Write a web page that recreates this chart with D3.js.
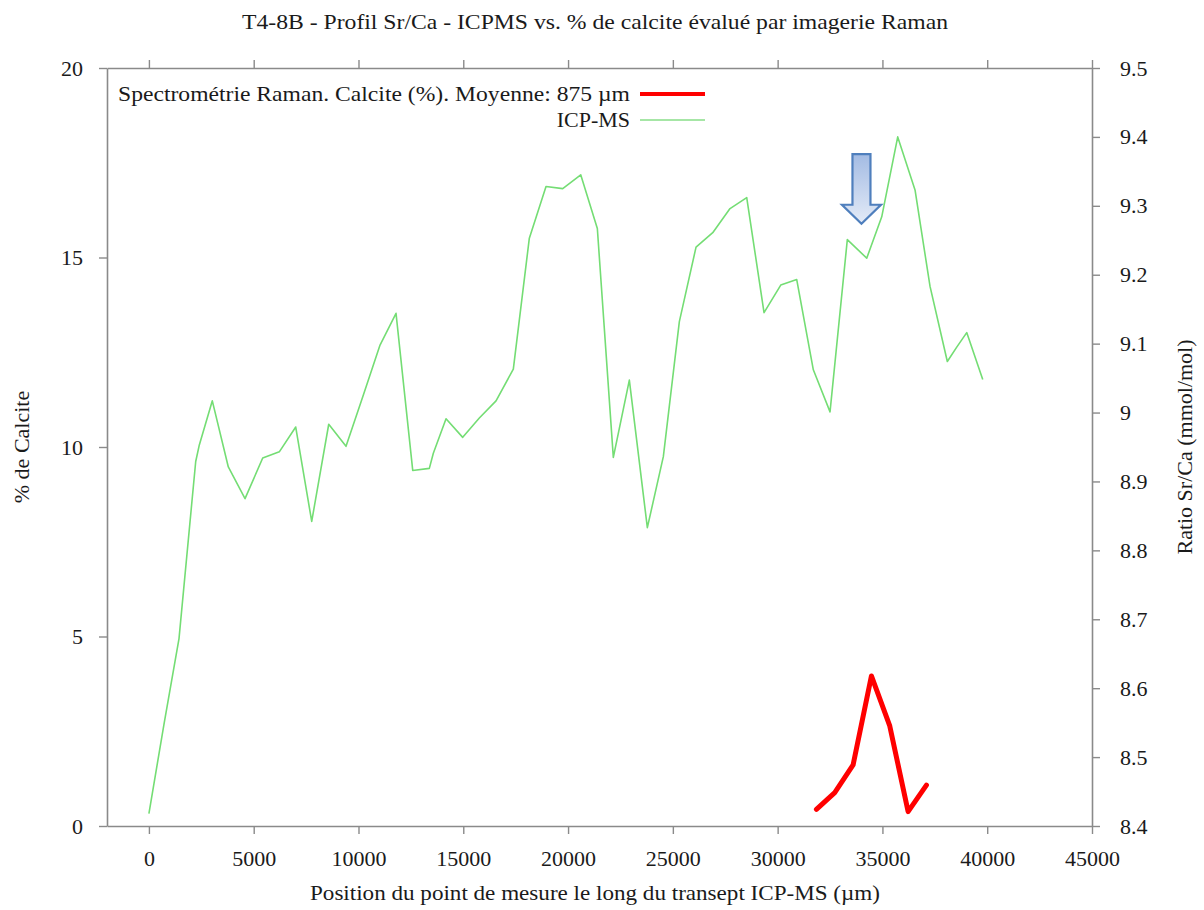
<!DOCTYPE html>
<html>
<head>
<meta charset="utf-8">
<script src="https://cdn.jsdelivr.net/npm/d3@7"></script>
<style>
    body { margin: 0; background: #fff; }
    text { font-family: "Liberation Serif", "Times New Roman", serif; fill: #1a1a1a; }
</style>
</head>
<body>
<div id="chart"></div>
<script>
// ICP-MS Sr/Ca profile (right axis)
const icpX = [0, 720, 1436, 2233, 2405, 3025, 3789, 4586, 5430, 6222, 7005, 7768, 8580, 9405,
    10216, 11028, 11791, 12588, 13380, 13571, 14177, 14974, 15766, 16563, 17388, 18152, 18948,
    19745, 20604, 21397, 22160, 22924, 23783, 24546, 25310, 26106, 26903, 27728, 28525, 29351,
    30148, 30911, 31703, 32500, 33325, 34251, 34967, 35730, 36556, 37272, 38097, 38546, 39023, 39787];
const icpSrCa = [8.418, 8.548, 8.672, 8.929, 8.953, 9.017, 8.921, 8.875, 8.934, 8.943, 8.979, 8.842,
    8.983, 8.951, 9.024, 9.098, 9.144, 8.916, 8.919, 8.941, 8.991, 8.964, 8.992, 9.017, 9.063, 9.253,
    9.328, 9.325, 9.345, 9.267, 8.935, 9.047, 8.833, 8.936, 9.132, 9.240, 9.261, 9.296, 9.312, 9.145,
    9.185, 9.193, 9.062, 9.001, 9.251, 9.224, 9.284, 9.400, 9.323, 9.183, 9.074, 9.095, 9.116, 9.048];

// Raman calcite percentage (left axis)
const ramanX = [31850, 32725, 33600, 34475, 35350, 36225, 37100];
const ramanCalcite = [0.44, 0.88, 1.61, 3.96, 2.64, 0.38, 1.08];

const xTicks = d3.range(0, 45001, 5000);
const leftTicks = [0, 5, 10, 15, 20];
const rightTicks = [8.4, 8.5, 8.6, 8.7, 8.8, 8.9, 9, 9.1, 9.2, 9.3, 9.4, 9.5];

// annotation arrow (data units)
const arrowX = 34000, arrowTop = 9.375, arrowTip = 9.274;

const width = 1204, height = 910;
const plot = {left: 107, right: 1092, top: 68, bottom: 826};
const axisColor = '#8a8a8a';
const fontSize = 22;

const svg = d3.select('#chart').append('svg')
    .attr('width', width)
    .attr('height', height);

const x = d3.scaleLinear().domain([-2000, 45000]).range([plot.left, plot.right]);
const yL = d3.scaleLinear().domain([0, 20]).range([plot.bottom, plot.top]);
const yR = d3.scaleLinear().domain([8.4, 9.5]).range([plot.bottom, plot.top]);

function styleAxis(g){
    g.selectAll('path').attr('stroke', axisColor).attr('stroke-width', 1.6);
    g.selectAll('line').attr('stroke', axisColor).attr('stroke-width', 1.4);
    g.selectAll('text').style('font-size', fontSize + 'px')
        .style('font-family', '"Liberation Serif", serif').attr('fill', '#1a1a1a');
}

// bottom axis
svg.append('g')
    .attr('transform', 'translate(0,' + plot.bottom + ')')
    .call(d3.axisBottom(x).tickValues(xTicks).tickSize(8).tickSizeOuter(0).tickPadding(16).tickFormat(d3.format('d')))
    .call(styleAxis);

// top axis (ticks only)
svg.append('g')
    .attr('transform', 'translate(0,' + plot.top + ')')
    .call(d3.axisTop(x).tickValues(xTicks).tickSize(8).tickSizeOuter(0).tickFormat(''))
    .call(styleAxis);

// left axis
svg.append('g')
    .attr('transform', 'translate(' + plot.left + ',0)')
    .call(d3.axisLeft(yL).tickValues(leftTicks).tickSize(8).tickSizeOuter(0).tickPadding(16))
    .call(styleAxis);

// right axis
svg.append('g')
    .attr('transform', 'translate(' + plot.right + ',0)')
    .call(d3.axisRight(yR).tickValues(rightTicks).tickSize(8).tickSizeOuter(0).tickPadding(20)
        .tickFormat(d => d === 9 ? '9' : d3.format('.1f')(d)))
    .call(styleAxis);

// data lines
const greenLine = d3.line()
    .x((d, i) => x(icpX[i]))
    .y(d => yR(d));

svg.append('path')
    .attr('d', greenLine(icpSrCa))
    .attr('fill', 'none')
    .attr('stroke', '#74dd74')
    .attr('stroke-width', 1.6)
    .attr('stroke-linejoin', 'round');

const redLine = d3.line()
    .x((d, i) => x(ramanX[i]))
    .y(d => yL(d));

svg.append('path')
    .attr('d', redLine(ramanCalcite))
    .attr('fill', 'none')
    .attr('stroke', '#ff0000')
    .attr('stroke-width', 5)
    .attr('stroke-linejoin', 'round')
    .attr('stroke-linecap', 'round');

// arrow annotation
const defs = svg.append('defs');
const grad = defs.append('linearGradient')
    .attr('id', 'arrowGrad')
    .attr('x1', 0).attr('y1', 0).attr('x2', 0).attr('y2', 1);
grad.append('stop').attr('offset', '0%').attr('stop-color', '#a3bbe3');
grad.append('stop').attr('offset', '100%').attr('stop-color', '#e4ebf7');

const ax = x(arrowX), aTop = yR(arrowTop), aTip = yR(arrowTip);
const shaftHalf = 9, headHalf = 19.5, headLen = 19;
const arrowPts = [
    [ax - shaftHalf, aTop], [ax + shaftHalf, aTop], [ax + shaftHalf, aTip - headLen],
    [ax + headHalf, aTip - headLen], [ax, aTip], [ax - headHalf, aTip - headLen],
    [ax - shaftHalf, aTip - headLen]
];
svg.append('path')
    .attr('d', d3.line()(arrowPts) + 'Z')
    .attr('fill', 'url(#arrowGrad)')
    .attr('stroke', '#4f7fbd')
    .attr('stroke-width', 2.2)
    .attr('stroke-linejoin', 'miter');

// legend
const legend = svg.append('g');
const legendItems = [
    {label: 'Spectrométrie Raman. Calcite (%). Moyenne: 875 µm', color: '#ff0000', w: 4, y: 94, len: 512},
    {label: 'ICP-MS', color: '#a6e6a6', w: 2, y: 120, len: null}
];
legendItems.forEach(item => {
    const t = legend.append('text')
        .attr('x', 630).attr('y', item.y + 7)
        .attr('text-anchor', 'end')
        .style('font-size', fontSize + 'px')
        .text(item.label);
    if (item.len) t.attr('textLength', item.len).attr('lengthAdjust', 'spacingAndGlyphs');
    legend.append('line')
        .attr('x1', 640).attr('x2', 705)
        .attr('y1', item.y).attr('y2', item.y)
        .attr('stroke', item.color)
        .attr('stroke-width', item.w);
});

// titles
svg.append('text')
    .attr('x', 595).attr('y', 29)
    .attr('text-anchor', 'middle')
    .attr('textLength', 706).attr('lengthAdjust', 'spacingAndGlyphs')
    .style('font-size', fontSize + 'px')
    .text('T4-8B - Profil Sr/Ca - ICPMS vs. % de calcite évalué par imagerie Raman');

svg.append('text')
    .attr('x', 595).attr('y', 900)
    .attr('text-anchor', 'middle')
    .attr('textLength', 570).attr('lengthAdjust', 'spacingAndGlyphs')
    .style('font-size', fontSize + 'px')
    .text('Position du point de mesure le long du transept ICP-MS (µm)');

svg.append('text')
    .attr('transform', 'translate(29,447) rotate(-90)')
    .attr('text-anchor', 'middle')
    .style('font-size', fontSize + 'px')
    .text('% de Calcite');

svg.append('text')
    .attr('transform', 'translate(1192,447) rotate(-90)')
    .attr('text-anchor', 'middle')
    .style('font-size', fontSize + 'px')
    .text('Ratio Sr/Ca (mmol/mol)');
</script>
</body>
</html>
